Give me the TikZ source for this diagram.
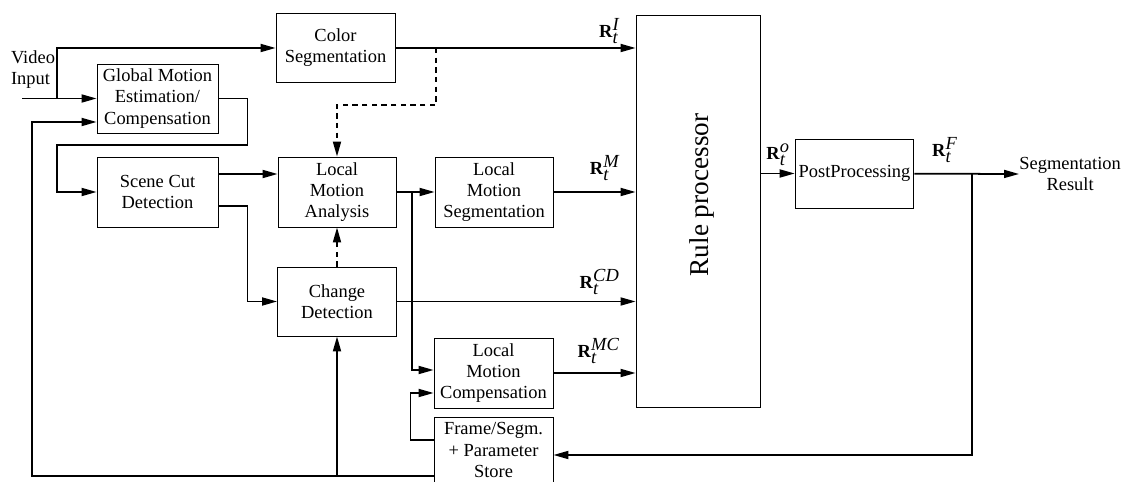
\documentclass[tikz,border=0pt]{standalone}
\usepackage{fontspec}
\setmainfont{Liberation Serif}
\usetikzlibrary{arrows.meta,positioning,calc}
\tikzset{
  box/.style={
    draw, line width=0.5pt, inner sep=2pt,
    align=center, font=\fontsize{10.5}{12}\selectfont
  },
  arrow/.style={-{Triangle[length=3mm,width=1.6mm]}, line width=1pt},
  dasharr/.style={arrow, dash pattern=on 3pt off 2.5pt},
  lbl/.style={inner sep=0pt, font=\fontsize{10.5}{12}\selectfont}
}
\newcommand{\Rt}[1]{\textbf{R}$_{\textit{t}}^{\textit{#1}}$}

\begin{document}
\begin{tikzpicture}[x=0.02cm, y=-0.02cm]
        \useasboundingbox (0,0) rectangle (1145,482);
        % blocks
        \node[box, minimum width=2.38cm, minimum height=1.38cm] (color) at (335.5,48) {Color\\Segmentation};
        \node[box, minimum width=2.42cm, minimum height=1.38cm] (gme) at (157.5,98.5) {Global Motion\\Estimation/\\Compensation};
        \node[box, minimum width=2.42cm, minimum height=1.40cm] (scd) at (157.5,192) {Scene Cut\\Detection};
        \node[box, minimum width=2.36cm, minimum height=1.40cm] (lma) at (337,192) {Local\\Motion\\Analysis};
        \node[box, minimum width=2.36cm, minimum height=1.40cm] (lms) at (494,192) {Local\\Motion\\Segmentation};
        \node[box, minimum width=2.38cm, minimum height=1.38cm] (cd) at (337,301.5) {Change\\Detection};
        \node[box, minimum width=2.38cm, minimum height=1.40cm] (lmc) at (493.5,373) {Local\\Motion\\Compensation};
        \node[box, minimum width=2.38cm, minimum height=1.32cm] (store) at (493.5,450) {Frame/Segm.\\+ Parameter\\Store};
        \node[box, minimum width=2.48cm, minimum height=7.84cm] (rule) at (698,211) {};
        \node[lbl, font=\fontsize{15.5}{18}\selectfont] (ruletxt) at (702,195) {\rotatebox{90}{Rule processor}};
        \node[box, minimum width=2.26cm, minimum height=1.38cm] (post) at (854.5,173.5) {PostProcessing};
        \node[lbl, align=left] (vin) at (33,70) {Video\\Input};
        \node[lbl, align=center, anchor=west] (result) at (1019,174) {Segmentation\\Result};
        % branch points
        \coordinate (vsrc) at (22,98.5);
        \coordinate (vbr) at (57,98.5);
        \coordinate (fbl) at (32,476);
        \coordinate (dbr) at (436,48);
        \coordinate (lbr) at (412,192);
        \coordinate (cdbr) at (337,476);
        \coordinate (pbr) at (972,173.5);
        % input side
        \draw[arrow] (vsrc) -- (gme);
        \draw[arrow] (vbr) |- (color);
        \draw[arrow] (gme.east) -- ++(29,0) |- (57,145) |- (scd);
        \draw[arrow] (fbl -| store.west) -- (fbl) |- ([yshift=-0.47cm]gme.west);
        \draw[arrow] ([yshift=0.36cm]scd.east) -- ([yshift=0.36cm]lma.west);
        \draw[arrow] ([yshift=-0.28cm]scd.east) -- ++(29,0) |- (cd);
        \draw[dasharr] (dbr) -- (436,105) -| (lma);
        \draw[dasharr] (cd) -- (lma);
        \draw[arrow] (cdbr) -- (cdbr |- cd.south);
        \draw[arrow] (lma) -- (lms);
        \draw[arrow] (lbr) |- ([yshift=0.06cm]lmc.west);
        \draw[arrow] ([yshift=0.2cm]store.west) -- ++(-23,0) |- ([yshift=-0.4cm]lmc.west);
        % into the rule processor
        \draw[arrow] (color) -- (color -| rule.west) node[lbl, anchor=south east, xshift=-0.3cm, yshift=0.06cm] {\Rt{I}};
        \draw[arrow] (lms) -- (lms -| rule.west) node[lbl, anchor=south east, xshift=-0.3cm, yshift=0.2cm] {\Rt{M}};
        \draw[arrow] (cd) -- (cd -| rule.west) node[lbl, anchor=south east, xshift=-0.3cm, yshift=0.12cm] {\Rt{CD}};
        \draw[arrow] (lmc) -- (lmc -| rule.west) node[lbl, anchor=south east, xshift=-0.3cm, yshift=0.16cm] {\Rt{MC}};
        % output side
        \draw[arrow] (rule.east |- post) -- (post) node[lbl, pos=0, anchor=south west, xshift=0.1cm, yshift=0.14cm] {\Rt{o}};
        \draw[arrow] (post) -- (result.west) node[lbl, pos=0, anchor=south west, xshift=0.34cm, yshift=0.2cm] {\Rt{F}};
        \draw[arrow] (pbr) |- ([yshift=-0.1cm]store.east);
      \end{tikzpicture}
\end{document}
